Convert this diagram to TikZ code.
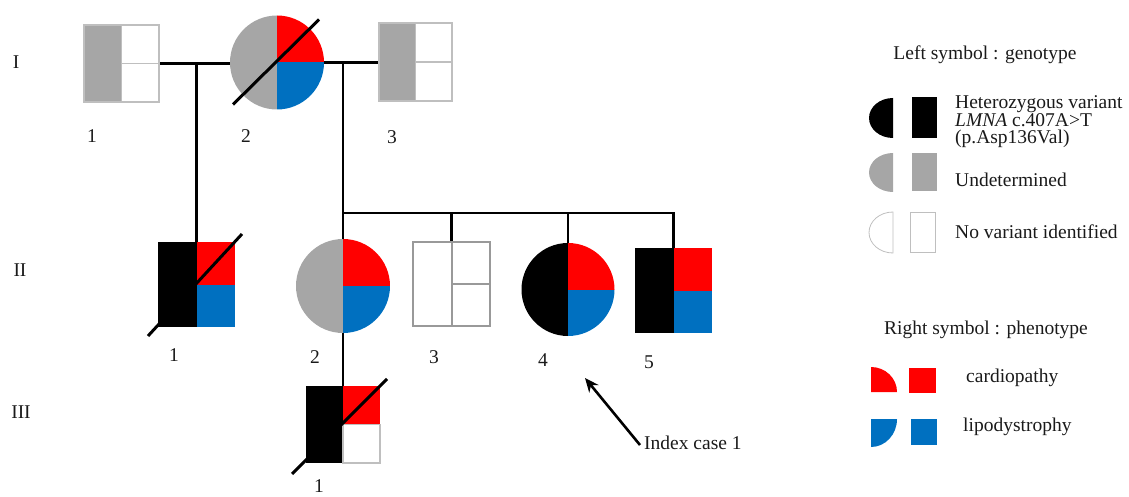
\documentclass[tikz,border=0pt]{standalone}
\usepackage{fontspec}
\setmainfont{Liberation Serif}
\usetikzlibrary{arrows.meta,calc}
\definecolor{cred}{HTML}{FF0000}
\definecolor{cblue}{HTML}{0070C0}
\definecolor{cgrey}{HTML}{A6A6A6}
\definecolor{cedge}{HTML}{BFBFBF}
\definecolor{cedgeb}{HTML}{999999}
\definecolor{ctext}{HTML}{1A1A1A}
\begin{document}
\begin{tikzpicture}[x=1pt,y=-1pt,
  conn/.style={line width=2.6pt, black},
  dec/.style={line width=3pt, black},
  sq/.style={rectangle, inner sep=0pt, outer sep=0pt, draw=none},
  ci/.style={circle, inner sep=0pt, outer sep=0pt, draw=none},
  lbl/.style={font=\fontsize{19.5}{19.5}\selectfont, text=ctext, inner sep=0pt},
  leg/.style={font=\fontsize{19.5}{17.5}\selectfont, text=ctext, inner sep=0pt, anchor=west, align=left},
  edge/.style={draw=cedge, line width=1.5pt},
  edgeb/.style={draw=cedgeb, line width=2pt},
]
\useasboundingbox (0,0) rectangle (1129,497);

% ---- symbol placeholders ----
\node[sq, minimum width=75pt, minimum height=77pt] (I1) at (121.5,63.5) {};
\node[ci, minimum size=94pt] (I2) at (277,62.5) {};
\node[sq, minimum width=73pt, minimum height=78pt] (I3) at (415.5,62) {};
\node[sq, minimum width=77pt, minimum height=85pt] (II1) at (196.5,284.5) {};
\node[ci, minimum size=94pt] (II2) at (343,286) {};
\node[sq, minimum width=77pt, minimum height=84pt] (II3) at (451.5,284) {};
\node[ci, minimum size=93pt] (II4) at (568,289.5) {};
\node[sq, minimum width=77pt, minimum height=85pt] (II5) at (673.5,290.5) {};
\node[sq, minimum width=74pt, minimum height=77pt] (III1) at (343,424.5) {};

% ---- connectors ----
\draw[conn] (I1.east) -- (I1.east -| I2.west);
\coordinate (m1) at (I1.east -| II1.north);
\draw[conn] (m1) -- (II1.north);
\draw[conn] (I2.east) -- (I2.east -| I3.west);
\coordinate (m2) at (I2.east -| II2.north);
\coordinate (sL) at (343,213);
\coordinate (sR) at (sL -| II5.north);
\draw[conn] (m2) -- (II2.north);
\draw[conn] (sL) -- (sR) -- (II5.north);
\draw[conn] (sL -| II3.north) -- (II3.north);
\draw[conn] (sL -| II4.north) -- (II4.north);
\draw[conn] (II2.south) -- (III1.north);

% ---- I1 ----
\fill[cgrey] (I1.north west) rectangle (I1.south);
\draw[edge] (I1.north west) rectangle (I1.south east);
\draw[edge] (I1.north) -- (I1.south);
\draw[edge] (I1.center) -- (I1.east);
% ---- I2 ----
\begin{scope}
  \clip (I2.center) circle[radius=47pt];
  \fill[cgrey] (I2.center) ++(-48,-48) rectangle ++(48,96);
  \fill[cred] (I2.center) rectangle ++(48,-48);
  \fill[cblue] (I2.center) rectangle ++(48,48);
\end{scope}
\draw[dec] ($(I2.center)+(-44,42)$) -- ($(I2.center)+(42,-43)$);
% ---- I3 ----
\fill[cgrey] (I3.north west) rectangle (I3.south);
\draw[edge] (I3.north west) rectangle (I3.south east);
\draw[edge] (I3.north) -- (I3.south);
\draw[edge] (I3.center) -- (I3.east);
% ---- II1 ----
\fill[black] (II1.north west) rectangle (II1.south);
\fill[cred] (II1.north) rectangle (II1.east);
\fill[cblue] (II1.center) rectangle (II1.south east);
\draw[dec] ($(II1.center)+(-48.5,51.5)$) -- ($(II1.center)+(45.5,-50.5)$);
% ---- II2 ----
\begin{scope}
  \clip (II2.center) circle[radius=47pt];
  \fill[cgrey] (II2.center) ++(-48,-48) rectangle ++(48,96);
  \fill[cred] (II2.center) rectangle ++(48,-48);
  \fill[cblue] (II2.center) rectangle ++(48,48);
\end{scope}
% ---- II3 ----
\draw[edgeb] (II3.north west) rectangle (II3.south east);
\draw[edgeb] (II3.north) -- (II3.south);
\draw[edgeb] (II3.center) -- (II3.east);
% ---- II4 ----
\begin{scope}
  \clip (II4.center) circle[radius=46.5pt];
  \fill[black] (II4.center) ++(-48,-48) rectangle ++(48,96);
  \fill[cred] (II4.center) rectangle ++(48,-48);
  \fill[cblue] (II4.center) rectangle ++(48,48);
\end{scope}
% ---- II5 ----
\fill[black] (II5.north west) rectangle (II5.south);
\fill[cred] (II5.north) rectangle (II5.east);
\fill[cblue] (II5.center) rectangle (II5.south east);
% ---- III1 ----
\fill[black] (III1.north west) rectangle (III1.south);
\fill[cred] (III1.north) rectangle (III1.east);
\draw[edge] (III1.center) rectangle (III1.south east);
\draw[dec] ($(III1.center)+(-51,49.5)$) -- ($(III1.center)+(44,-45.5)$);

% ---- labels ----
\node[lbl] (gI) at (16,62) {I};
\node[lbl] (gII) at (20,270) {II};
\node[lbl] (gIII) at (21,412) {III};
\node[lbl] (lI1) at (92,136) {1};
\node[lbl] (lI2) at (246,136) {2};
\node[lbl] (lI3) at (392,137) {3};
\node[lbl] (lII1) at (174,355) {1};
\node[lbl] (lII2) at (315,357) {2};
\node[lbl] (lII3) at (434,357) {3};
\node[lbl] (lII4) at (543,360) {4};
\node[lbl] (lII5) at (649,362) {5};
\node[lbl] (lIII1) at (319,486) {1};

% ---- index case ----
\node[leg] (idx) at (644,443) {Index case 1};
\coordinate (tip) at (585,378);
\draw[conn, -{Stealth[length=14pt,width=12pt]}] ([xshift=-4pt,yshift=-2pt]idx.west) -- (tip);

% ---- legend ----
\node[lbl] (legL) at (985,55) {Left symbol : genotype};
\fill[black] (893,138) arc[start angle=90, end angle=270, x radius=24, y radius=20] -- cycle;
\fill[black] (912,97) rectangle (937,138);
\node[leg] (het) at (955,122) {Heterozygous variant\\\textit{LMNA} c.407A>T\\(p.Asp136Val)};
\fill[cgrey] (893,192) arc[start angle=90, end angle=270, x radius=24, y radius=19.5] -- cycle;
\fill[cgrey] (912,153) rectangle (937,191);
\node[leg] (und) at (955,180) {Undetermined};
\draw[cedge, line width=0.8pt] (893,253) arc[start angle=90, end angle=270, x radius=24, y radius=20.5] -- cycle;
\draw[cedge, line width=0.8pt] (910,212) rectangle (935,252);
\node[leg] (nov) at (955,232) {No variant identified};

\node[lbl] (legR) at (986,330) {Right symbol : phenotype};
\fill[cred] (871,392) -- (871,367) arc[start angle=270, end angle=360, x radius=26, y radius=25] -- cycle;
\fill[cred] (909,368) rectangle (936,393);
\node[leg] (card) at (966,378) {cardiopathy};
\fill[cblue] (871,419) -- (897,419) arc[start angle=0, end angle=90, x radius=26, y radius=28] -- cycle;
\fill[cblue] (911,419) rectangle (937,445);
\node[leg] (lipo) at (963,427) {lipodystrophy};
\end{tikzpicture}
\end{document}
